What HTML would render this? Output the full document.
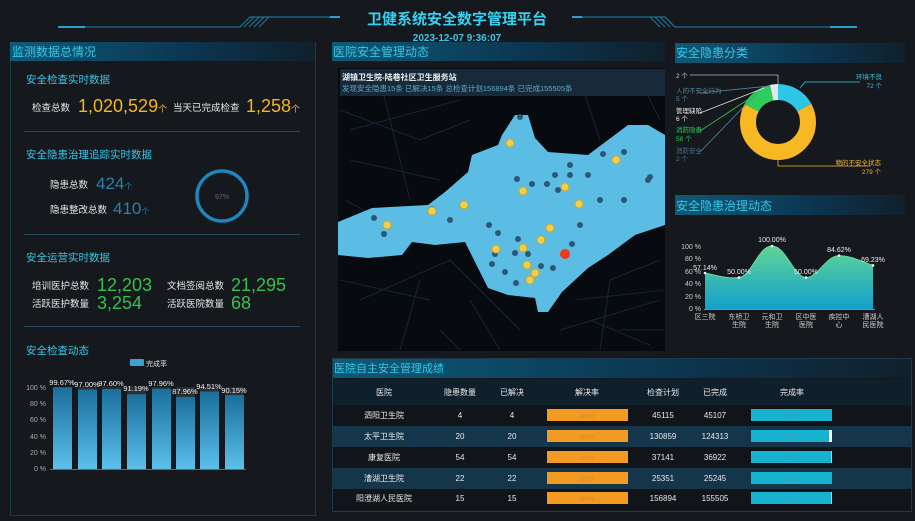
<!DOCTYPE html>
<html><head><meta charset="utf-8"><style>
html,body{margin:0;padding:0;background:#15181c;}
svg{display:block;font-family:"Liberation Sans","Noto Sans CJK SC",sans-serif;}
</style></head><body>
<svg width="915" height="521" viewBox="0 0 915 521" xmlns="http://www.w3.org/2000/svg">
<defs>
<linearGradient id="hdr" x1="0" x2="1" y1="0" y2="0"><stop offset="0" stop-color="#0d5a78"/><stop offset="0.6" stop-color="#0c3550"/><stop offset="1" stop-color="#10202c"/></linearGradient>
<linearGradient id="bar" x1="0" x2="0" y1="0" y2="1"><stop offset="0" stop-color="#1a6e9c"/><stop offset="1" stop-color="#5bc0ea"/></linearGradient>
<linearGradient id="area" x1="0" x2="0" y1="0" y2="1"><stop offset="0" stop-color="#5fd596"/><stop offset="1" stop-color="#149fcc"/></linearGradient>
</defs>
<rect width="915" height="521" fill="#15181c"/>
<!-- title deco -->
<g stroke="#1f6f92" stroke-width="1.2" fill="none">
<path d="M58 27 H240 L250 17 H340"/>
<path d="M572 17 H665 L675 27 H857"/>
<path d="M244 27 l10 -10 M249 27 l10 -10 M254 27 l10 -10 M259 27 l10 -10"/>
<path d="M650 17 l10 10 M655 17 l10 10 M660 17 l10 10 M665 17 l10 10"/>
</g>
<path d="M58 27 H85" stroke="#2a9fd0" stroke-width="2"/><path d="M830 27 H857" stroke="#2a9fd0" stroke-width="2"/>
<path d="M330 17 H340" stroke="#2a9fd0" stroke-width="2"/><path d="M572 17 H582" stroke="#2a9fd0" stroke-width="2"/>
<text x="457" y="24" text-anchor="middle" font-size="15" font-weight="bold" fill="#33d3f2">卫健系统安全数字管理平台</text>
<text x="457" y="41" text-anchor="middle" font-size="10" font-weight="bold" fill="#3ac8e8">2023-12-07 9:36:07</text>

<!-- LEFT PANEL -->
<rect x="10.5" y="42.5" width="305" height="473" fill="none" stroke="#1d3a48"/>
<rect x="10" y="42" width="305" height="19" fill="url(#hdr)"/>
<text x="12" y="56" font-size="12" fill="#35c8e8">监测数据总情况</text>
<text x="26" y="83" font-size="10.5" fill="#35c8e8">安全检查实时数据</text>
<text x="32" y="111" font-size="9.5" fill="#e8e8e8">检查总数</text>
<text x="78" y="112" font-size="18" fill="#f3b523">1,020,529<tspan font-size="9">个</tspan></text>
<text x="173" y="111" font-size="9.5" fill="#e8e8e8">当天已完成检查</text>
<text x="246" y="112" font-size="18" fill="#f3b523">1,258<tspan font-size="9">个</tspan></text>
<g stroke="#244a5c"><line x1="24" y1="131.5" x2="300" y2="131.5"/><line x1="24" y1="234.5" x2="300" y2="234.5"/><line x1="24" y1="326.5" x2="300" y2="326.5"/></g>
<text x="26" y="158" font-size="10.5" fill="#35c8e8">安全隐患治理追踪实时数据</text>
<text x="50" y="188" font-size="9.5" fill="#e8e8e8">隐患总数</text>
<text x="96" y="189" font-size="17" fill="#2c7fae">424<tspan font-size="8">个</tspan></text>
<text x="50" y="213" font-size="9.5" fill="#e8e8e8">隐患整改总数</text>
<text x="113" y="214" font-size="17" fill="#2c7fae">410<tspan font-size="8">个</tspan></text>
<circle cx="222" cy="196" r="25" fill="none" stroke="#1f86bd" stroke-width="3.5"/>
<text x="222" y="199" text-anchor="middle" font-size="7" fill="#666">97%</text>
<text x="26" y="261" font-size="10.5" fill="#35c8e8">安全运营实时数据</text>
<text x="32" y="289" font-size="9.5" fill="#e8e8e8">培训医护总数</text>
<text x="97" y="291" font-size="18" fill="#33c150">12,203</text>
<text x="167" y="289" font-size="9.5" fill="#e8e8e8">文档签阅总数</text>
<text x="231" y="291" font-size="18" fill="#33c150">21,295</text>
<text x="32" y="307" font-size="9.5" fill="#e8e8e8">活跃医护数量</text>
<text x="97" y="309" font-size="18" fill="#33c150">3,254</text>
<text x="167" y="307" font-size="9.5" fill="#e8e8e8">活跃医院数量</text>
<text x="231" y="309" font-size="18" fill="#33c150">68</text>
<text x="26" y="354" font-size="10.5" fill="#35c8e8">安全检查动态</text>
<rect x="130" y="359" width="14" height="7" fill="#3aa2d6" rx="1"/>
<text x="146" y="366" font-size="7" fill="#ddd">完成率</text>
<g font-size="7" fill="#aaa" text-anchor="end">
<text x="46" y="390">100 %</text>
<text x="46" y="406">80 %</text><text x="46" y="422">60 %</text><text x="46" y="439">40 %</text><text x="46" y="455">20 %</text><text x="46" y="471">0 %</text></g>
<line x1="50" y1="469.5" x2="246" y2="469.5" stroke="#666"/>
<g fill="#2a2e33">
<rect x="53" y="387" width="19" height="82"/><rect x="78" y="387" width="19" height="82"/><rect x="102" y="387" width="19" height="82"/><rect x="127" y="387" width="19" height="82"/><rect x="152" y="387" width="19" height="82"/><rect x="176" y="387" width="19" height="82"/><rect x="200" y="387" width="19" height="82"/><rect x="225" y="387" width="19" height="82"/></g>
<g fill="url(#bar)">
<rect x="53" y="387.3" width="19" height="81.7"/><rect x="78" y="389.5" width="19" height="79.5"/><rect x="102" y="389" width="19" height="80"/><rect x="127" y="394.2" width="19" height="74.8"/><rect x="152" y="388.7" width="19" height="80.3"/><rect x="176" y="396.9" width="19" height="72.1"/><rect x="200" y="391.5" width="19" height="77.5"/><rect x="225" y="395.1" width="19" height="73.9"/></g>
<g font-size="7.5" fill="#eee" text-anchor="middle">
<text x="62" y="385">99.67%</text><text x="87" y="387">97.00%</text><text x="111" y="386">97.60%</text><text x="136" y="391">91.19%</text><text x="161" y="386">97.96%</text><text x="185" y="394">87.96%</text><text x="209" y="389">94.51%</text><text x="234" y="393">90.15%</text></g>

<!-- MIDDLE MAP -->
<rect x="332" y="42" width="333" height="19" fill="url(#hdr)"/>
<text x="333" y="56" font-size="12" fill="#35c8e8">医院安全管理动态</text>
<rect x="338" y="68" width="327" height="283" fill="#070b10"/>
<g stroke="#17273a" stroke-width="1" fill="none" opacity="0.9">
<path d="M340 110 L420 140 L470 120 M350 160 L440 180 M360 300 L450 260 L520 330 M400 350 L420 280 M560 330 L660 300 M600 350 L610 280 L660 260 M345 200 L400 230 M380 80 L410 200 M580 80 L600 140 M620 330 L665 330 M340 280 L430 300 M470 300 L500 350 M640 80 L660 120 M350 130 L460 100 M575 300 L665 290 M590 320 L650 345 M440 330 L460 350"/>
</g>
<rect x="340" y="69" width="325" height="27" fill="#1a3042" opacity="0.85"/>
<text x="342" y="80" font-size="8" font-weight="bold" fill="#f0f0f0">湖镇卫生院-陆巷社区卫生服务站</text>
<text x="342" y="91" font-size="7.5" fill="#5fa8c8">发现安全隐患15条 已解决15条 总检查计划156894条 已完成155505条</text>
<polygon fill="#5bbde4" points="338,222 372,208 428,205 445,192 468,172 472,155 498,145 502,135 515,115 528,115 535,138 548,152 588,155 628,125 648,125 665,135 665,225 635,235 608,255 588,268 562,292 548,312 538,312 535,298 508,295 488,288 475,262 465,242 435,245 412,242 402,255 368,258 338,255"/>
<g fill="#2c5777">
<circle cx="520" cy="117" r="3"/><circle cx="517" cy="179" r="3"/><circle cx="532" cy="184" r="3"/><circle cx="547" cy="184" r="3"/><circle cx="555" cy="175" r="3"/><circle cx="570" cy="175" r="3"/><circle cx="588" cy="175" r="3"/><circle cx="558" cy="190" r="3"/><circle cx="603" cy="154" r="3"/><circle cx="624" cy="152" r="3"/><circle cx="570" cy="165" r="3"/><circle cx="648" cy="180" r="3"/><circle cx="600" cy="200" r="3"/><circle cx="624" cy="200" r="3"/><circle cx="580" cy="225" r="3"/><circle cx="374" cy="218" r="3"/><circle cx="384" cy="234" r="3"/><circle cx="450" cy="220" r="3"/><circle cx="489" cy="225" r="3"/><circle cx="498" cy="233" r="3"/><circle cx="518" cy="239" r="3"/><circle cx="528" cy="254" r="3"/><circle cx="515" cy="253" r="3"/><circle cx="495" cy="254" r="3"/><circle cx="492" cy="264" r="3"/><circle cx="505" cy="272" r="3"/><circle cx="541" cy="266" r="3"/><circle cx="553" cy="268" r="3"/><circle cx="516" cy="283" r="3"/><circle cx="572" cy="244" r="3"/><circle cx="650" cy="177" r="3"/><circle cx="432" cy="209" r="3"/></g>
<g fill="#f0cf4c" stroke="#c9a830" stroke-width="1">
<circle cx="510" cy="143" r="4"/><circle cx="523" cy="191" r="4"/><circle cx="565" cy="187" r="4"/><circle cx="579" cy="204" r="4"/><circle cx="616" cy="160" r="4"/><circle cx="464" cy="205" r="4"/><circle cx="432" cy="211" r="4"/><circle cx="387" cy="225" r="4"/><circle cx="550" cy="228" r="4"/><circle cx="541" cy="240" r="4"/><circle cx="523" cy="248" r="4"/><circle cx="496" cy="249" r="4"/><circle cx="527" cy="265" r="4"/><circle cx="535" cy="273" r="4"/><circle cx="530" cy="280" r="4"/></g>
<circle cx="565" cy="254" r="5" fill="#f03a1e"/>

<!-- TABLE -->
<rect x="332.5" y="358.5" width="579" height="153" fill="none" stroke="#1d3a48"/>
<rect x="333" y="359" width="578" height="19" fill="url(#hdr)"/>
<text x="334" y="372" font-size="11" fill="#35c8e8">医院自主安全管理成绩</text>
<rect x="333" y="379" width="578" height="26" fill="#0f1f2c"/>
<rect x="333" y="405" width="578" height="21" fill="#111419"/>
<rect x="333" y="426" width="578" height="21" fill="#15354a"/>
<rect x="333" y="447" width="578" height="21" fill="#111419"/>
<rect x="333" y="468" width="578" height="21" fill="#15354a"/>
<rect x="333" y="489" width="578" height="21" fill="#111419"/>
<g font-size="8" fill="#e8e8e8" text-anchor="middle">
<text x="384" y="395">医院</text><text x="460" y="395">隐患数量</text><text x="512" y="395">已解决</text><text x="587" y="395">解决率</text><text x="663" y="395">检查计划</text><text x="715" y="395">已完成</text><text x="792" y="395">完成率</text>
<text x="384" y="418">泗阳卫生院</text><text x="460" y="418">4</text><text x="512" y="418">4</text><text x="663" y="418">45115</text><text x="715" y="418">45107</text>
<text x="384" y="439">太平卫生院</text><text x="460" y="439">20</text><text x="512" y="439">20</text><text x="663" y="439">130859</text><text x="715" y="439">124313</text>
<text x="384" y="460">康复医院</text><text x="460" y="460">54</text><text x="512" y="460">54</text><text x="663" y="460">37141</text><text x="715" y="460">36922</text>
<text x="384" y="481">漕湖卫生院</text><text x="460" y="481">22</text><text x="512" y="481">22</text><text x="663" y="481">25351</text><text x="715" y="481">25245</text>
<text x="384" y="501">阳澄湖人民医院</text><text x="460" y="501">15</text><text x="512" y="501">15</text><text x="663" y="501">156894</text><text x="715" y="501">155505</text>
</g>
<g fill="#f39a22"><rect x="547" y="409" width="81" height="12"/><rect x="547" y="430" width="81" height="12"/><rect x="547" y="451" width="81" height="12"/><rect x="547" y="472" width="81" height="12"/><rect x="547" y="492" width="81" height="12"/></g>
<g fill="#ffffff"><rect x="751" y="430" width="81" height="12"/><rect x="751" y="451" width="81" height="12"/><rect x="751" y="492" width="81" height="12"/></g>
<g fill="#17b2d0"><rect x="751" y="409" width="81" height="12"/><rect x="751" y="430" width="78" height="12"/><rect x="751" y="451" width="80.5" height="12"/><rect x="751" y="472" width="81" height="12"/><rect x="751" y="492" width="80.5" height="12"/></g>
<g font-size="6" fill="#c98030" text-anchor="middle" opacity="0.8"><text x="587" y="418">100%</text><text x="587" y="439">100%</text><text x="587" y="460">100%</text><text x="587" y="481">100%</text><text x="587" y="501">100%</text></g>
<g font-size="6" fill="#3a9ab8" text-anchor="middle"><text x="791" y="418">100%</text><text x="791" y="439">95%</text><text x="791" y="460">99%</text><text x="791" y="481">100%</text><text x="791" y="501">99%</text></g>

<!-- RIGHT -->
<rect x="675" y="43" width="230" height="20" fill="url(#hdr)"/>
<text x="676" y="57" font-size="12" fill="#35c8e8">安全隐患分类</text>
<g transform="rotate(-90 778 122)" fill="none" stroke-width="16">
<circle cx="778" cy="122" r="30" stroke="#2ec6e6" stroke-dasharray="32 188.5"/>
<circle cx="778" cy="122" r="30" stroke="#f7b824" stroke-dasharray="0 32 124 188.5"/>
<circle cx="778" cy="122" r="30" stroke="#2ecc5a" stroke-dasharray="0 156 25.8 188.5"/>
<circle cx="778" cy="122" r="30" stroke="#dfe8ee" stroke-dasharray="0 181.8 6.7 188.5"/>
</g>
<g stroke-width="0.8" fill="none">
<polyline points="690,75 778,75 778,84" stroke="#bbb"/>
<polyline points="700,93 770,86" stroke="#5a86a0"/>
<polyline points="700,113 764,88" stroke="#ddd"/>
<polyline points="700,131 755,95" stroke="#2ecc5a"/>
<polyline points="700,152 757,93" stroke="#5a86a0"/>
<polyline points="800,88 805,82 860,82" stroke="#2ec6e6"/>
<polyline points="778,159 778,166 870,166" stroke="#f7b824"/>
</g>
<g font-size="6.5">
<text x="676" y="78" fill="#ccc">2 个</text>
<text x="676" y="93" fill="#5a86a0">人的不安全行为</text><text x="676" y="101" fill="#5a86a0">5 个</text>
<text x="676" y="113" fill="#eee">管理缺陷</text><text x="676" y="121" fill="#eee">6 个</text>
<text x="676" y="132" fill="#2ecc5a">消防隐患</text><text x="676" y="141" fill="#2ecc5a">58 个</text>
<text x="676" y="153" fill="#4a7690">消防安全</text><text x="676" y="161" fill="#4a7690">2 个</text>
<text x="882" y="79" fill="#2ec6e6" text-anchor="end">环境不良</text><text x="882" y="88" fill="#2ec6e6" text-anchor="end">72 个</text>
<text x="881" y="165" fill="#f7b824" text-anchor="end">物的不安全状态</text><text x="881" y="174" fill="#f7b824" text-anchor="end">279 个</text>
</g>
<rect x="675" y="195" width="230" height="20" fill="url(#hdr)"/>
<text x="676" y="210" font-size="12" fill="#35c8e8">安全隐患治理动态</text>
<g font-size="7" fill="#ccc" text-anchor="end">
<text x="701" y="249">100 %</text><text x="701" y="261">80 %</text><text x="701" y="274">60 %</text><text x="701" y="286">40 %</text><text x="701" y="299">20 %</text><text x="701" y="311">0 %</text></g>
<path d="M705 273 C718 276 728 279 739 277.5 C752 276 758 246 772 246 C786 246 794 277.5 806 277.5 C818 277.5 826 255.7 839 255.7 C852 255.7 862 262 873 265.4 L873 309 L705 309 Z" fill="url(#area)"/>
<path d="M705 273 C718 276 728 279 739 277.5 C752 276 758 246 772 246 C786 246 794 277.5 806 277.5 C818 277.5 826 255.7 839 255.7 C852 255.7 862 262 873 265.4" fill="none" stroke="#6adba0" stroke-width="1"/>
<line x1="704" y1="309.5" x2="875" y2="309.5" stroke="#888"/>
<g fill="#fff"><circle cx="705" cy="273" r="1.3"/><circle cx="739" cy="277.5" r="1.3"/><circle cx="772" cy="246" r="1.3"/><circle cx="806" cy="277.5" r="1.3"/><circle cx="839" cy="255.7" r="1.3"/><circle cx="873" cy="265.4" r="1.3"/></g>
<g font-size="7" fill="#eee" text-anchor="middle">
<text x="705" y="270">57.14%</text><text x="739" y="274">50.00%</text><text x="772" y="242">100.00%</text><text x="806" y="274">50.00%</text><text x="839" y="252">84.62%</text><text x="873" y="262">69.23%</text></g>
<g font-size="7" fill="#ccc" text-anchor="middle">
<text x="705" y="319">区三院</text>
<text x="739" y="319">东桥卫</text><text x="739" y="327">生院</text>
<text x="772" y="319">元和卫</text><text x="772" y="327">生院</text>
<text x="806" y="319">区中医</text><text x="806" y="327">医院</text>
<text x="839" y="319">疾控中</text><text x="839" y="327">心</text>
<text x="873" y="319">漕湖人</text><text x="873" y="327">民医院</text></g>
</svg>
</body></html>
